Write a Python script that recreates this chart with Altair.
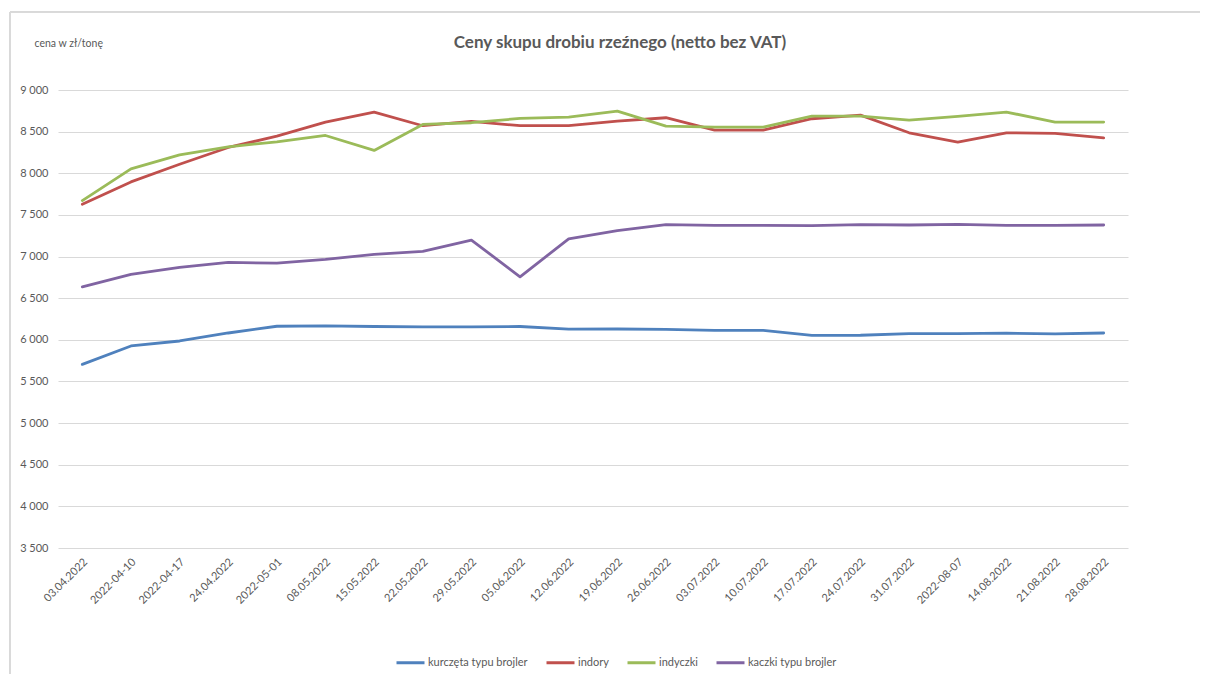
import altair as alt
import pandas as pd

dates = ["03.04.2022", "2022-04-10", "2022-04-17", "24.04.2022", "2022-05-01",
         "08.05.2022", "15.05.2022", "22.05.2022", "29.05.2022", "05.06.2022",
         "12.06.2022", "19.06.2022", "26.06.2022", "03.07.2022", "10.07.2022",
         "17.07.2022", "24.07.2022", "31.07.2022", "2022-08-07", "14.08.2022",
         "21.08.2022", "28.08.2022"]

kurczeta = [5705, 5926, 5986, 6082, 6163, 6168, 6160, 6155, 6155, 6160,
            6128, 6130, 6125, 6114, 6114, 6054, 6055, 6075, 6075, 6080, 6071, 6082]
indory = [7628, 7896, 8109, 8310, 8446, 8615, 8735, 8571, 8623, 8571,
          8572, 8627, 8667, 8518, 8518, 8655, 8699, 8486, 8374, 8486, 8478, 8426]
indyczki = [7672, 8053, 8221, 8318, 8378, 8454, 8274, 8587, 8607, 8659,
            8675, 8747, 8567, 8555, 8555, 8687, 8687, 8639, 8683, 8735, 8615, 8615]
kaczki = [6636, 6785, 6869, 6929, 6921, 6965, 7026, 7062, 7198, 6757,
          7212, 7310, 7383, 7375, 7375, 7371, 7383, 7379, 7387, 7375, 7375, 7379]

series_names = ["kurczęta typu brojler", "indory", "indyczki", "kaczki typu brojler"]
series_values = [kurczeta, indory, indyczki, kaczki]
series_colors = ["#4F81BD", "#C0504D", "#9BBB59", "#8064A2"]

rows = []
for name, vals in zip(series_names, series_values):
    for d, v in zip(dates, vals):
        rows.append({"data": d, "seria": name, "cena": v})
df = pd.DataFrame(rows)

FONT = "Lato"
GREY = "#595959"

lines = alt.Chart(df).mark_line(strokeWidth=2.8, strokeJoin="round", strokeCap="round").encode(
    x=alt.X("data:O", sort=dates, scale=alt.Scale(padding=0.5),
            axis=alt.Axis(title=None, labelAngle=-45, labelAlign="right", labelBaseline="middle",
                          labelPadding=12, labelOffset=3, ticks=False, domain=False, grid=False,
                          labelFontSize=11, labelColor=GREY, labelFont=FONT)),
    y=alt.Y("cena:Q", scale=alt.Scale(domain=[3500, 9000], nice=False, zero=False),
            axis=alt.Axis(title="cena w zł/tonę", titleAngle=0, titleX=-24, titleY=-47,
                          titleAlign="left", titleBaseline="middle", titleFontWeight="normal",
                          titleFontSize=10.5, titleColor=GREY, titleFont=FONT,
                          values=list(range(3500, 9001, 500)),
                          labelExpr="replace(format(datum.value, ','), ',', ' ')",
                          ticks=False, domain=False, grid=True, gridColor="#D9D9D9",
                          gridWidth=1, labelPadding=10, labelFontSize=11, labelColor=GREY,
                          labelFont=FONT)),
    color=alt.Color("seria:N", sort=series_names,
                    scale=alt.Scale(domain=series_names, range=series_colors),
                    legend=alt.Legend(title=None, orient="none", legendX=337, legendY=557,
                                      direction="horizontal", symbolType="stroke",
                                      symbolSize=784, symbolStrokeWidth=3,
                                      labelFontSize=11, labelColor=GREY, labelFont=FONT,
                                      labelOffset=2, columnPadding=12)),
)

border_top = alt.Chart(df).mark_rule(color="#D9D9D9", strokeWidth=1).encode(
    x=alt.value(-48), x2=alt.value(1150), y=alt.value(-78))
border_left = alt.Chart(df).mark_rule(color="#D9D9D9", strokeWidth=1).encode(
    x=alt.value(-48), y=alt.value(-78), y2=alt.value(600))

chart = alt.layer(border_top, border_left, lines).properties(
    width=1070, height=458,
    padding={"left": 50, "top": 82, "right": 72, "bottom": 126},
    autosize=alt.AutoSizeParams(type="none"),
    background="white",
    title=alt.TitleParams("Ceny skupu drobiu rzeźnego (netto bez VAT)", anchor="middle",
                          frame="group", offset=-40, dx=27, fontSize=17, fontWeight="bold",
                          color=GREY, font=FONT),
).configure_view(strokeWidth=0)

chart.save("out.html", embed_options={"renderer": "svg", "actions": False})
